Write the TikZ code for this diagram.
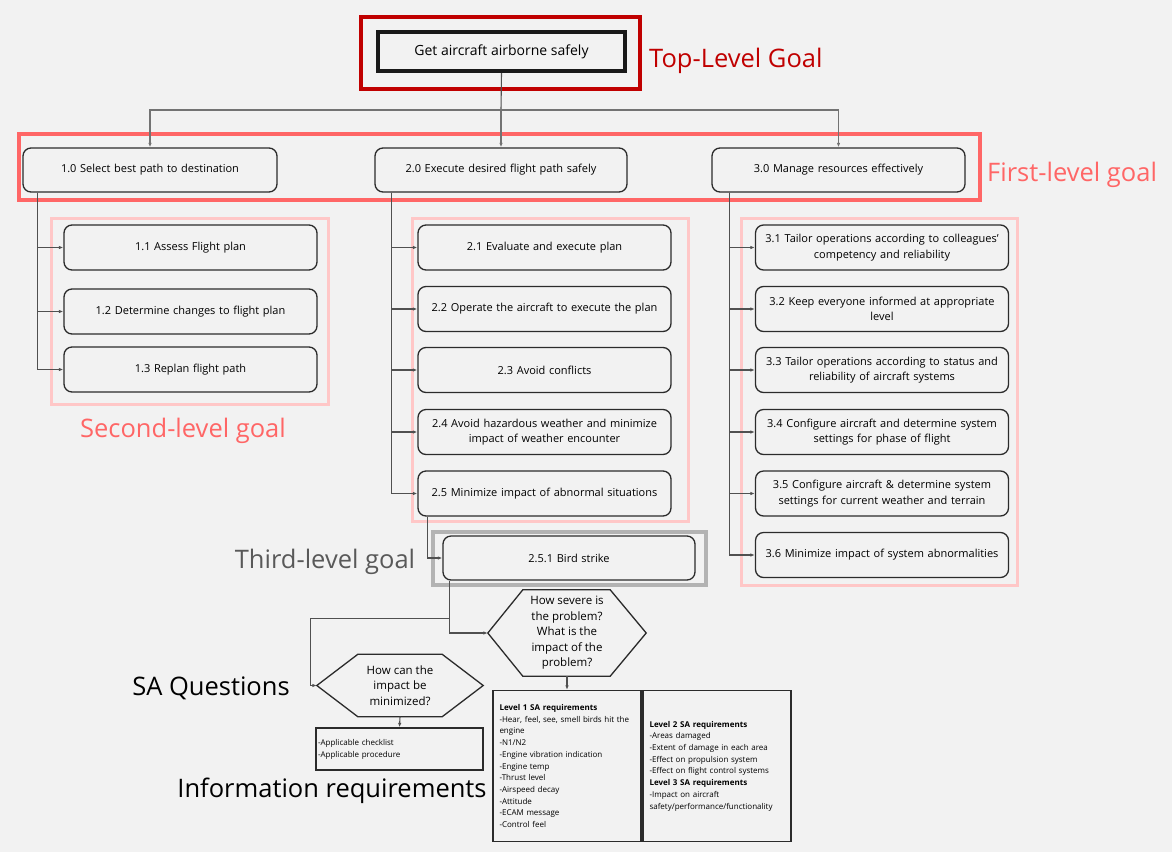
\documentclass[tikz,border=0pt]{standalone}
\usepackage{fontspec}
\setmainfont{Open Sans}
\usetikzlibrary{arrows.meta,calc}
\definecolor{bg}{HTML}{F2F2F2}
\definecolor{darkred}{HTML}{C00000}
\definecolor{salmon}{HTML}{FF6666}
\definecolor{pinkf}{HTML}{FFC7C7}
\definecolor{grayf}{HTML}{B3B3B3}
\definecolor{graytxt}{HTML}{595959}
\definecolor{boxc}{HTML}{2B2B2B}
\definecolor{connc}{HTML}{505050}
\begin{document}
\begin{tikzpicture}[x=1pt,y=-1pt,
  goalbox/.style={draw=boxc, line width=1.3pt, rounded corners=8pt, fill=bg,
    minimum width=253pt, minimum height=45pt, align=center, text width=245pt,
    inner sep=2pt, font=\fontsize{11}{15.5}\selectfont},
  firstbox/.style={goalbox, minimum height=44pt, font=\fontsize{11}{13}\selectfont},
  conn/.style={draw=connc, line width=1.1pt, -{Latex[length=4.5pt,width=3.5pt]}},
  bigl/.style={font=\fontsize{25.5}{30}\selectfont, inner sep=0pt, yshift=-2.5pt},
  frame/.style={line width=4pt},
  reqbox/.style={draw=boxc, line width=1.3pt, align=left, inner xsep=6pt,
    font=\fontsize{8}{11.7}\selectfont}
]
\useasboundingbox (0,0) rectangle (1172,852);
\fill[bg] (0,0) rectangle (1172,852);

% frames
\draw[frame, darkred] (361,17) rectangle (640,89);
\draw[frame, salmon] (19,134) rectangle (980,200);
\draw[line width=3pt, pinkf] (51,218) rectangle (328,404);
\draw[line width=3pt, pinkf] (412,218) rectangle (688,521);
\draw[line width=3pt, pinkf] (741,218) rectangle (1017,585);
\draw[line width=4pt, grayf] (433,532) rectangle (706,585);

% top goal
\node[draw=black!90, line width=4pt, fill=bg, minimum width=247pt, minimum height=39pt,
  font=\fontsize{14}{17}\selectfont] (top) at (501.5,51.5) {Get aircraft airborne safely};

% first level
\node[firstbox, minimum width=254pt] (g1) at (150,170) {1.0 Select best path to destination};
\node[firstbox, minimum width=252pt] (g2) at (501,170) {2.0 Execute desired flight path safely};
\node[firstbox] (g3) at (838.5,170) {3.0 Manage resources effectively};

% second level
\node[goalbox] (g11) at (190.5,247.5) {1.1 Assess Flight plan};
\node[goalbox] (g12) at (190.5,311.5) {1.2 Determine changes to flight plan};
\node[goalbox] (g13) at (190.5,369.5) {1.3 Replan flight path};

\node[goalbox] (g21) at (544.5,247.5) {2.1 Evaluate and execute plan};
\node[goalbox] (g22) at (544.5,309) {2.2 Operate the aircraft to execute the plan};
\node[goalbox] (g23) at (544.5,370) {2.3 Avoid conflicts};
\node[goalbox] (g24) at (544.5,432) {2.4 Avoid hazardous weather and minimize\\impact of weather encounter};
\node[goalbox] (g25) at (544.5,493.5) {2.5 Minimize impact of abnormal situations};

\node[goalbox] (g31) at (882,247.5) {3.1 Tailor operations according to colleagues'\\competency and reliability};
\node[goalbox] (g32) at (882,309) {3.2 Keep everyone informed at appropriate\\level};
\node[goalbox] (g33) at (882,370) {3.3 Tailor operations according to status and\\reliability of aircraft systems};
\node[goalbox] (g34) at (882,432) {3.4 Configure aircraft and determine system\\settings for phase of flight};
\node[goalbox] (g35) at (882,493.5) {3.5 Configure aircraft \& determine system\\settings for current weather and terrain};
\node[goalbox] (g36) at (882,555) {3.6 Minimize impact of system abnormalities};

% third level
\node[goalbox, minimum width=252pt, minimum height=44pt] (bs) at (569,558) {2.5.1 Bird strike};

% SA questions (hexagons)
\node[minimum width=158pt, minimum height=86pt, inner sep=0pt, align=center,
  font=\fontsize{11.5}{15.5}\selectfont] (hex1) at (567,633)
  {How severe is\\the problem?\\What is the\\impact of the\\problem?};
\draw[boxc, line width=1.3pt] (hex1.west) -- ($(hex1.north west)+(35,0)$) -- ($(hex1.north east)+(-36,0)$)
  -- (hex1.east) -- ($(hex1.south east)+(-36,0)$) -- ($(hex1.south west)+(35,0)$) -- cycle;
\node[minimum width=166pt, minimum height=62pt, inner sep=0pt, align=center,
  font=\fontsize{11.5}{15.5}\selectfont] (hex2) at (400,685.5)
  {How can the\\impact be\\minimized?};
\draw[boxc, line width=1.3pt] (hex2.west) -- ($(hex2.north west)+(41,0)$) -- ($(hex2.north east)+(-41,0)$)
  -- (hex2.east) -- ($(hex2.south east)+(-41,0)$) -- ($(hex2.south west)+(41,0)$) -- cycle;

% information requirements
\node[reqbox, minimum width=148pt, minimum height=151pt, text width=135pt] (lvl1) at (567,766)
{\textbf{Level 1 SA requirements}\\-Hear, feel, see, smell birds hit the\\engine\\-N1/N2\\-Engine vibration indication\\-Engine temp\\-Thrust level\\-Airspeed decay\\-Attitude\\-ECAM message\\-Control feel};
\node[reqbox, minimum width=148pt, minimum height=151pt, text width=135pt] (lvl2) at (717,766)
{\textbf{Level 2 SA requirements}\\-Areas damaged\\-Extent of damage in each area\\-Effect on propulsion system\\-Effect on flight control systems\\\textbf{Level 3 SA requirements}\\-Impact on aircraft\\safety/performance/functionality};
\node[reqbox, inner xsep=1.5pt, minimum width=167pt, minimum height=42pt, text width=163pt,
  font=\fontsize{8}{12}\selectfont] (info) at (399.5,749)
{-Applicable checklist\\-Applicable procedure};

% labels
\node[bigl, darkred, anchor=west] (lt) at (649,58) {Top-Level Goal};
\node[bigl, salmon, anchor=west] (lf) at (987,172) {First-level goal};
\node[bigl, salmon] (ls) at (183,428) {Second-level goal};
\node[bigl, graytxt] (lth) at (325,559) {Third-level goal};
\node[bigl] (lsa) at (211,686) {SA Questions};
\node[bigl] (lir) at (332,788) {Information requirements};

% connectors
\coordinate (bus) at (501,110);
\draw[draw=connc, line width=1.1pt] (top.south) -- (bus);
\draw[conn, draw=connc!80] (bus) -| (g1.north);
\draw[conn, draw=connc!80] (bus) -- (g2.north);
\draw[conn, draw=connc!80] (bus) -| (g3.north);

\foreach \n in {g11,g12,g13}
  \draw[conn] ($(g1.south west)+(15,0)$) |- (\n.west);
\foreach \n in {g21,g22,g23,g24,g25}
  \draw[conn] ($(g2.south west)+(17,0)$) |- (\n.west);
\foreach \n in {g31,g32,g33,g34,g35,g36}
  \draw[conn] ($(g3.south west)+(18,0)$) |- (\n.west);

\draw[conn] ($(g25.south west)+(10,0)$) |- (bs.west);
\draw[conn] ($(bs.south west)+(7,0)$) |- (hex1.west);
\draw[conn] ($(bs.south west)+(7,0)$) -- ++(0,38) -| ($(hex2.west)+(-6,0)$) -- (hex2.west);
\draw[conn] (hex1.south) -- (lvl1.north);
\draw[conn] (hex2.south) -- (info.north);
\end{tikzpicture}
\end{document}
